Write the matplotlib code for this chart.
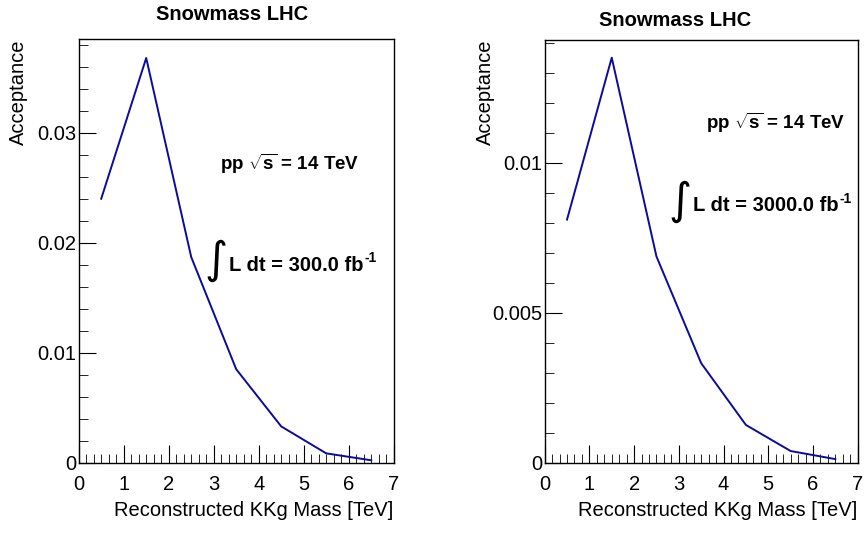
import matplotlib
matplotlib.use("Agg")
import matplotlib.pyplot as plt
from matplotlib.ticker import MultipleLocator, FuncFormatter

plt.rcParams['font.family'] = ['Liberation Sans', 'DejaVu Sans']
plt.rcParams['mathtext.fontset'] = 'custom'
plt.rcParams['mathtext.rm'] = 'Liberation Sans'
plt.rcParams['mathtext.bf'] = 'Liberation Sans:bold'

# data: acceptance vs reconstructed KKg mass
mass = [0.5, 1.5, 2.5, 3.5, 4.5, 5.5, 6.5]
acc_300 = [0.0240, 0.0368, 0.0187, 0.0085, 0.0033, 0.00085, 0.00022]
acc_3000 = [0.00811, 0.01351, 0.00688, 0.00332, 0.00126, 0.00039, 0.00012]
lumis = ['300.0', '3000.0']

line_color = '#0a0a9e'

fig = plt.figure(figsize=(8.64, 5.34), dpi=100)
ax1 = fig.add_axes([0.0911, 0.1335, 0.3646, 0.7929])
ax2 = fig.add_axes([0.6304, 0.1335, 0.3623, 0.7916])


def style(ax, ymax, ymajor, yminor):
    ax.set_xlim(0, 7)
    ax.set_ylim(0, ymax)
    ax.xaxis.set_major_locator(MultipleLocator(1))
    ax.xaxis.set_minor_locator(MultipleLocator(1 / 6))
    ax.yaxis.set_major_locator(MultipleLocator(ymajor))
    ax.yaxis.set_minor_locator(MultipleLocator(yminor))
    ax.yaxis.set_major_formatter(FuncFormatter(lambda v, p: '%g' % round(v, 6)))
    ax.tick_params(which='both', direction='in', top=False, right=False,
                   labelsize=14.5, color='black')
    ax.tick_params(axis='x', which='major', length=13, pad=9)
    ax.tick_params(axis='x', which='minor', length=6.5)
    ax.tick_params(axis='y', which='major', length=12, pad=2)
    ax.tick_params(axis='y', which='minor', length=6.5)
    for s in ax.spines.values():
        s.set_linewidth(1.0)
    ax.set_xlabel('Reconstructed KKg Mass [TeV]', fontsize=14.5, loc='right', labelpad=5)
    ax.text(-0.19, 1.0, 'Acceptance', rotation=90, ha='center', va='top',
            fontsize=14.5, transform=ax.transAxes)


style(ax1, 0.0385, 0.01, 0.002)
style(ax2, 0.0141, 0.005, 0.001)

ax1.plot(mass, acc_300, color=line_color, lw=1.4)
ax2.plot(mass, acc_3000, color=line_color, lw=1.4)

fig.text(232 / 864, 1 - 14 / 534, 'Snowmass LHC', ha='center', va='center',
         fontsize=14.5, fontweight='bold')
fig.text(675 / 864, 1 - 21 / 534, 'Snowmass LHC', ha='center', va='center',
         fontsize=14.5, fontweight='bold')

# energy label
ax1.text(0.4486, 0.691, r'pp $\mathbf{\sqrt{s}}$ = 14 TeV', transform=ax1.transAxes,
         fontsize=13.5, fontweight='bold', va='baseline')
ax2.text(0.5153, 0.789, r'pp $\mathbf{\sqrt{s}}$ = 14 TeV', transform=ax2.transAxes,
         fontsize=13.5, fontweight='bold', va='baseline')

# luminosity label
for ax, lum, xi, yi, xt, yt in [(ax1, lumis[0], 0.400, 0.4776, 0.477, 0.4535),
                                (ax2, lumis[1], 0.397, 0.619, 0.474, 0.596)]:
    ax.text(xi, yi, '\u222b', transform=ax.transAxes, fontsize=32,
            family='DejaVu Sans', ha='left', va='center')
    t = ax.text(xt, yt, 'L dt = %s fb' % lum, transform=ax.transAxes,
                fontsize=14.5, fontweight='bold', va='baseline')
    ax.annotate('-1', xy=(1, 1), xycoords=t, xytext=(0.5, -2),
                textcoords='offset points', fontsize=10, fontweight='bold',
                ha='left', va='center')

fig.savefig('out.png', dpi=100)
